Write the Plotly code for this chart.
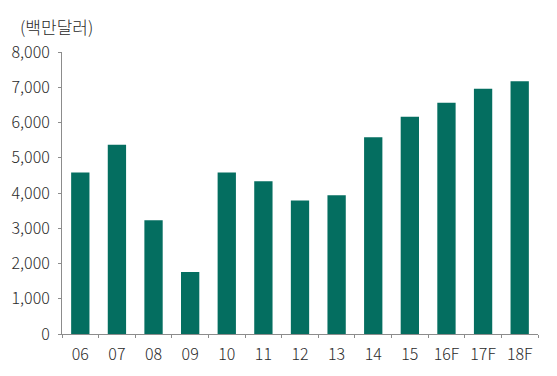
import plotly.graph_objects as go

categories = ["06", "07", "08", "09", "10", "11", "12", "13", "14", "15", "16F", "17F", "18F"]
values = [4580, 5370, 3230, 1760, 4580, 4330, 3790, 3935, 5580, 6165, 6560, 6960, 7170]
y_ticks = [0, 1000, 2000, 3000, 4000, 5000, 6000, 7000, 8000]
y_ticklabels = ["0", "1,000", "2,000", "3,000", "4,000", "5,000", "6,000", "7,000", "8,000"]
unit_label = "(백만달러)"

font_family = "Noto Sans CJK KR, Noto Sans, sans-serif"
text_color = "#2a2a2a"

fig = go.Figure(go.Bar(
    x=categories, y=values,
    marker=dict(color="#046e60", line=dict(width=0)),
    width=0.5,
))

W, H = 557, 376
ml, mr, mt, mb = 62, 19, 52, 42
pw = W - ml - mr

fig.update_layout(
    width=W, height=H,
    margin=dict(l=ml, r=mr, t=mt, b=mb),
    plot_bgcolor="white", paper_bgcolor="white",
    showlegend=False,
    font=dict(family=font_family, size=16, color=text_color, weight=300),
    xaxis=dict(
        type="category",
        showline=True, linecolor="#8c8c8c", linewidth=1,
        ticks="outside", ticklen=3, tickcolor="#8c8c8c",
        tickson="boundaries",
        ticklabelstandoff=6,
        showgrid=False, zeroline=False,
        tickfont=dict(size=16, color=text_color, weight=300),
    ),
    yaxis=dict(
        range=[0, 8000],
        tickvals=y_ticks, ticktext=y_ticklabels,
        showline=True, linecolor="#8c8c8c", linewidth=1,
        ticks="outside", ticklen=3, tickcolor="#8c8c8c",
        ticklabelstandoff=5,
        showgrid=False, zeroline=False,
        tickfont=dict(size=16, color=text_color, weight=300),
    ),
    annotations=[dict(
        text=unit_label, xref="paper", yref="paper",
        x=(18 - ml) / pw, y=1 + (mt - 26.5) / (H - mt - mb),
        xanchor="left", yanchor="middle", showarrow=False,
        font=dict(size=17, color=text_color, weight=300),
    )],
)

fig.write_html("out.html")
